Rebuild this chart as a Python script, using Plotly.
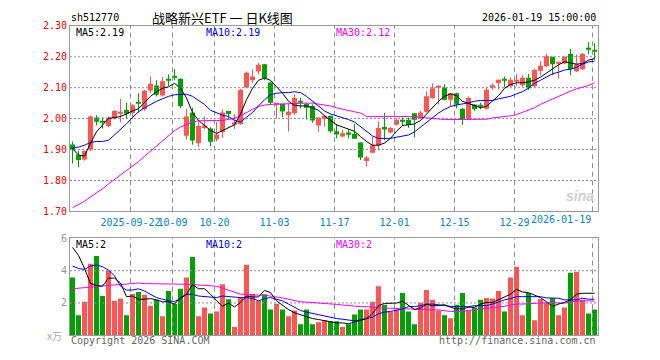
import plotly.graph_objects as go
import pandas as pd

# ---------------- data ----------------
holidays = ["2025-10-01", "2025-10-02", "2025-10-03", "2025-10-06", "2025-10-07",
            "2025-10-08", "2026-01-01", "2026-01-02"]
dates = [d.strftime("%Y-%m-%d") for d in pd.bdate_range("2025-09-08", "2026-01-19")
         if d.strftime("%Y-%m-%d") not in holidays]

opens = [1.916, 1.882, 1.868, 1.899, 2.004, 1.990, 1.976, 2.001, 2.018, 2.028,
         2.018, 2.051, 2.030, 2.091, 2.107, 2.075, 2.127, 2.135, 2.129, 1.945,
         2.020, 1.921, 1.970, 1.968, 1.933, 1.957, 2.025, 1.983, 1.983, 2.101,
         2.124, 2.152, 2.176, 2.117, 2.046, 2.048, 2.011, 2.017, 2.058, 2.048,
         2.041, 1.978, 1.999, 2.009, 1.959, 1.942, 1.955, 1.951, 1.923, 1.863,
         1.890, 1.913, 1.973, 1.955, 1.980, 1.991, 1.996, 2.017, 2.001, 2.022,
         2.067, 2.100, 2.101, 2.061, 2.082, 2.032, 1.997, 2.046, 2.041, 2.032,
         2.100, 2.114, 2.125, 2.105, 2.120, 2.108, 2.132, 2.105, 2.155, 2.169,
         2.200, 2.178, 2.178, 2.209, 2.153, 2.160, 2.226, 2.220]
closes = [1.900, 1.866, 1.895, 2.007, 1.990, 1.988, 2.004, 2.025, 2.019, 2.016,
          2.043, 2.050, 2.090, 2.113, 2.077, 2.121, 2.125, 2.133, 2.041, 2.007,
          1.929, 1.976, 1.978, 1.925, 1.949, 2.020, 2.015, 1.988, 2.093, 2.148,
          2.136, 2.174, 2.131, 2.051, 2.048, 2.023, 2.022, 2.067, 2.051, 2.035,
          1.994, 2.004, 2.009, 1.959, 1.949, 1.953, 1.949, 1.935, 1.874, 1.874,
          1.914, 1.970, 1.965, 1.970, 1.996, 1.990, 1.980, 1.996, 2.020, 2.072,
          2.098, 2.101, 2.061, 2.082, 2.046, 1.997, 2.067, 2.030, 2.040, 2.093,
          2.108, 2.126, 2.124, 2.126, 2.121, 2.132, 2.098, 2.157, 2.171, 2.202,
          2.176, 2.179, 2.200, 2.160, 2.176, 2.209, 2.225, 2.219]
highs = [1.926, 1.895, 1.897, 2.010, 2.011, 2.004, 2.007, 2.027, 2.064, 2.051,
         2.048, 2.082, 2.093, 2.136, 2.124, 2.134, 2.143, 2.160, 2.130, 2.032,
         2.035, 1.989, 2.007, 1.972, 1.989, 2.030, 2.025, 2.014, 2.096, 2.152,
         2.160, 2.179, 2.176, 2.117, 2.049, 2.048, 2.049, 2.078, 2.067, 2.051,
         2.046, 2.004, 2.012, 2.009, 1.983, 1.963, 1.966, 1.983, 1.923, 1.880,
         1.942, 1.991, 2.018, 1.973, 2.001, 2.004, 2.004, 2.017, 2.025, 2.088,
         2.114, 2.108, 2.111, 2.082, 2.084, 2.035, 2.072, 2.046, 2.051, 2.103,
         2.114, 2.126, 2.136, 2.134, 2.143, 2.140, 2.145, 2.162, 2.186, 2.209,
         2.200, 2.181, 2.201, 2.226, 2.207, 2.212, 2.247, 2.244]
lows = [1.855, 1.843, 1.864, 1.895, 1.978, 1.968, 1.972, 1.997, 1.988, 2.001,
        1.999, 2.020, 2.025, 2.082, 2.072, 2.072, 2.105, 2.124, 2.033, 1.932,
        1.916, 1.908, 1.966, 1.910, 1.926, 1.938, 1.999, 1.967, 1.980, 2.098,
        2.116, 2.143, 2.124, 2.046, 2.000, 2.005, 1.958, 2.012, 2.033, 1.997,
        1.987, 1.958, 1.974, 1.955, 1.936, 1.939, 1.936, 1.935, 1.866, 1.845,
        1.888, 1.897, 1.930, 1.953, 1.978, 1.976, 1.970, 1.940, 1.999, 2.020,
        2.064, 2.046, 2.059, 2.040, 2.033, 1.980, 1.997, 2.025, 2.030, 2.030,
        2.093, 2.095, 2.101, 2.103, 2.105, 2.103, 2.093, 2.101, 2.140, 2.166,
        2.140, 2.129, 2.176, 2.140, 2.150, 2.157, 2.209, 2.190]

ma5 = [1.903, 1.882, 1.879, 1.921, 1.957, 1.978, 2.001, 2.003, 2.007, 2.015,
       2.025, 2.032, 2.051, 2.072, 2.087, 2.098, 2.103, 2.114, 2.098, 2.067,
       2.020, 1.994, 1.978, 1.962, 1.952, 1.962, 1.970, 1.980, 2.015, 2.061,
       2.098, 2.124, 2.131, 2.124, 2.103, 2.082, 2.056, 2.043, 2.041, 2.041,
       2.035, 2.027, 2.009, 1.994, 1.980, 1.973, 1.966, 1.959, 1.942, 1.926,
       1.914, 1.914, 1.921, 1.936, 1.959, 1.978, 1.980, 1.983, 1.994, 2.015,
       2.035, 2.056, 2.072, 2.080, 2.074, 2.056, 2.049, 2.041, 2.035, 2.040,
       2.056, 2.074, 2.098, 2.110, 2.116, 2.116, 2.119, 2.124, 2.134, 2.147,
       2.160, 2.174, 2.184, 2.181, 2.176, 2.178, 2.189, 2.194]
ma10 = [1.905, 1.908, 1.914, 1.923, 1.926, 1.926, 1.930, 1.947, 1.965, 1.983,
        2.004, 2.022, 2.035, 2.046, 2.056, 2.064, 2.072, 2.077, 2.079, 2.079,
        2.072, 2.059, 2.046, 2.027, 2.020, 2.011, 2.007, 1.994, 1.989, 2.004,
        2.020, 2.041, 2.061, 2.077, 2.082, 2.084, 2.084, 2.087, 2.084, 2.072,
        2.056, 2.041, 2.025, 2.015, 2.009, 2.004, 1.997, 1.989, 1.973, 1.957,
        1.944, 1.936, 1.936, 1.936, 1.940, 1.944, 1.947, 1.957, 1.973, 1.989,
        2.004, 2.018, 2.030, 2.039, 2.044, 2.047, 2.051, 2.056, 2.059, 2.058,
        2.059, 2.064, 2.067, 2.072, 2.080, 2.087, 2.098, 2.114, 2.124, 2.134,
        2.145, 2.150, 2.157, 2.160, 2.166, 2.176, 2.183, 2.186]
ma30 = [1.712, 1.723, 1.733, 1.747, 1.759, 1.773, 1.789, 1.803, 1.818, 1.832,
        1.847, 1.861, 1.878, 1.895, 1.911, 1.928, 1.945, 1.961, 1.973, 1.982,
        1.989, 1.993, 1.994, 1.994, 1.994, 1.994, 1.997, 2.001, 2.009, 2.020,
        2.030, 2.039, 2.044, 2.046, 2.047, 2.048, 2.048, 2.049, 2.050, 2.050,
        2.050, 2.047, 2.045, 2.041, 2.035, 2.030, 2.026, 2.022, 2.018, 2.007,
        2.007, 2.007, 2.007, 2.009, 2.009, 2.009, 2.007, 2.006, 2.004, 2.001,
        1.999, 1.999, 1.997, 1.997, 1.997, 1.997, 1.997, 1.997, 1.997, 1.998,
        2.002, 2.004, 2.006, 2.009, 2.013, 2.020, 2.028, 2.035, 2.046, 2.055,
        2.064, 2.072, 2.082, 2.089, 2.096, 2.101, 2.107, 2.116]

volume = [3.58, 1.23, 2.07, 4.43, 4.91, 2.43, 4.00, 2.13, 2.27, 1.23,
          2.56, 2.68, 2.50, 1.83, 2.19, 1.17, 2.74, 1.93, 2.88, 3.58,
          4.85, 1.17, 1.71, 1.35, 1.47, 3.16, 2.23, 0.50, 2.37, 4.37,
          2.56, 2.13, 2.54, 1.59, 1.95, 1.59, 1.17, 1.53, 0.68, 1.59,
          0.68, 0.80, 0.93, 0.87, 0.87, 0.50, 0.68, 1.28, 1.59, 1.59,
          2.07, 3.04, 1.89, 1.43, 1.59, 2.62, 1.47, 0.68, 2.01, 2.80,
          2.19, 1.53, 1.23, 1.05, 1.89, 2.62, 1.53, 1.71, 2.19, 2.31,
          2.27, 2.74, 1.47, 3.58, 4.25, 1.23, 2.62, 0.93, 2.25, 1.99,
          2.31, 1.23, 1.71, 3.88, 3.94, 2.19, 1.35, 1.59]
vma5 = [5.45, 4.95, 4.14, 3.20, 3.08, 3.04, 3.54, 3.54, 3.24, 2.39,
        2.43, 2.23, 2.23, 2.27, 2.19, 2.07, 2.07, 1.93, 2.33, 2.54,
        3.14, 2.88, 2.88, 2.54, 2.13, 1.79, 1.99, 1.75, 2.03, 2.43,
        2.37, 2.37, 2.78, 2.64, 2.13, 1.83, 1.59, 1.39, 1.27, 1.19,
        1.03, 0.97, 0.89, 0.82, 0.76, 0.76, 0.70, 0.82, 0.91, 1.03,
        1.33, 1.83, 1.97, 1.99, 1.99, 2.11, 1.83, 1.59, 1.69, 1.91,
        1.83, 1.83, 1.89, 1.73, 1.63, 1.63, 1.73, 1.73, 1.93, 2.03,
        2.03, 2.19, 2.33, 2.54, 2.84, 2.68, 2.64, 2.47, 2.33, 2.07,
        1.79, 1.93, 2.03, 2.19, 2.54, 2.60, 2.60, 2.60]
vma10 = [4.29, 4.14, 4.08, 4.29, 4.35, 4.25, 4.04, 3.68, 3.04, 2.80,
         2.80, 2.88, 2.74, 2.54, 2.33, 2.23, 2.13, 2.09, 2.27, 2.54,
         2.54, 2.43, 2.39, 2.33, 2.33, 2.43, 2.39, 2.33, 2.33, 2.33,
         2.27, 2.13, 2.27, 2.33, 2.23, 2.13, 1.93, 1.73, 1.53, 1.43,
         1.33, 1.27, 1.19, 1.09, 1.03, 0.99, 0.93, 0.89, 0.95, 1.03,
         1.11, 1.33, 1.43, 1.47, 1.53, 1.63, 1.77, 1.77, 1.83, 1.93,
         1.93, 1.87, 1.83, 1.79, 1.77, 1.77, 1.77, 1.83, 1.83, 1.83,
         1.93, 2.07, 2.19, 2.27, 2.39, 2.39, 2.39, 2.39, 2.39, 2.31,
         2.31, 2.29, 2.19, 2.19, 2.19, 2.29, 2.23, 2.23]
vma30 = [2.88, 2.92, 2.94, 3.00, 3.00, 3.04, 3.08, 3.12, 3.14, 3.18,
         3.20, 3.24, 3.20, 3.20, 3.20, 3.20, 3.18, 3.20, 3.20, 3.16,
         3.14, 3.12, 3.10, 3.08, 3.04, 2.92, 2.80, 2.64, 2.54, 2.54,
         2.50, 2.48, 2.48, 2.43, 2.37, 2.31, 2.23, 2.15, 2.07, 2.05,
         2.03, 1.99, 1.95, 1.93, 1.91, 1.87, 1.83, 1.79, 1.77, 1.77,
         1.73, 1.71, 1.67, 1.67, 1.65, 1.63, 1.63, 1.59, 1.59, 1.57,
         1.57, 1.57, 1.51, 1.47, 1.47, 1.47, 1.53, 1.57, 1.59, 1.63,
         1.67, 1.73, 1.79, 1.87, 1.93, 1.93, 1.97, 1.97, 1.99, 2.03,
         2.03, 1.99, 1.99, 2.07, 2.11, 2.13, 2.13, 2.11]

tick_dates = ["2025-09-22", "2025-10-09", "2025-10-20", "2025-11-03", "2025-11-17",
              "2025-12-01", "2025-12-15", "2025-12-29", "2026-01-19"]
tick_labels = ["2025-09-22", "10-09", "10-20", "11-03", "11-17",
               "12-01", "12-15", "12-29", "2026-01-19"]
price_ticks = [1.70, 1.80, 1.90, 2.00, 2.10, 2.20, 2.30]
vol_ticks = [2, 4, 6]

# ---------------- styling ----------------
W, H = 660, 360
RED, GREEN = "#ff5555", "#00a000"
MONO = "DejaVu Sans Mono"
GRIDC = "#8e8e8e"
FRAME = "#9a9a9a"
TICKBLUE = "#0a82d2"

n = len(dates)
xs = list(range(n))
up = [c >= o for o, c in zip(opens, closes)]
colors = [RED if u else GREEN for u in up]

tick_pos = [dates.index(d) - 1 / 3 for d in tick_dates]
tick_text = tick_labels[:-1] + [""]

x0_px, x1_px = 70, 597.5
PX_X = 6.0                      # pixels per trading day
xrange = [-2.5 / PX_X, -2.5 / PX_X + (x1_px - x0_px) / PX_X]
xdom = [x0_px / W, x1_px / W]
prange = [price_ticks[0], price_ticks[-1]]
vrange = [0, vol_ticks[-1]]
P_TOP, P_BOT = 20.5, 212.5
V_TOP, V_BOT = 240.5, 340.5
p_per_px = (prange[1] - prange[0]) / (P_BOT - P_TOP)
v_per_px = (vrange[1] - vrange[0]) / (V_BOT - V_TOP)

fig = go.Figure()


def dashed_segments(lo, hi, on, off):
    segs = []
    s = lo
    while s < hi:
        segs.append((s, min(s + on, hi)))
        s += on + off
    return segs


def grid_trace(xv, yv, xa, ya):
    fig.add_trace(go.Scatter(x=xv, y=yv, mode="lines", hoverinfo="skip", showlegend=False,
                             line=dict(color=GRIDC, width=1, simplify=False),
                             xaxis=xa, yaxis=ya))


# vertical dashed grid (5px on, 4px off) in both panels
for ya, rng, per in (("y", prange, p_per_px), ("y2", vrange, v_per_px)):
    gx, gy = [], []
    for tp in tick_pos:
        for a, b in dashed_segments(rng[0], rng[1], 5 * per, 4 * per):
            gx += [tp, tp, None]
            gy += [a, b, None]
    grid_trace(gx, gy, "x" if ya == "y" else "x2", ya)

# horizontal dotted grid (2px on, 2px off)
for xa, ya, levels in (("x", "y", price_ticks[1:-1]), ("x2", "y2", vol_ticks[:-1])):
    gx, gy = [], []
    for v in levels:
        for a, b in dashed_segments(xrange[0], xrange[1], 2 / PX_X, 2 / PX_X):
            gx += [a, b, None]
            gy += [v, v, None]
    grid_trace(gx, gy, xa, ya)

# wicks
for col, flag in ((RED, True), (GREEN, False)):
    wx, wy = [], []
    for i in xs:
        if up[i] == flag:
            wx += [i, i, None]
            wy += [lows[i], highs[i], None]
    fig.add_trace(go.Scatter(x=wx, y=wy, mode="lines", line=dict(color=col, width=1),
                             hoverinfo="skip", showlegend=False, xaxis="x", yaxis="y"))

# bodies
body_base = [min(o, c) for o, c in zip(opens, closes)]
body_h = [max(abs(c - o), p_per_px) for o, c in zip(opens, closes)]
fig.add_trace(go.Bar(x=xs, y=body_h, base=body_base, width=0.84,
                     marker=dict(color=colors, line=dict(width=0)),
                     showlegend=False, xaxis="x", yaxis="y"))

# price moving averages
for arr, col in ((ma30, "#ff00ff"), (ma10, "#0000ff"), (ma5, "#000000")):
    fig.add_trace(go.Scatter(x=xs, y=arr, mode="lines", line=dict(color=col, width=1),
                             showlegend=False, xaxis="x", yaxis="y"))

# volume
fig.add_trace(go.Bar(x=xs, y=volume, width=0.84,
                     marker=dict(color=colors, line=dict(width=0)),
                     showlegend=False, xaxis="x2", yaxis="y2"))
for arr, col in ((vma30, "#ff00ff"), (vma10, "#0000ff"), (vma5, "#000000")):
    fig.add_trace(go.Scatter(x=xs, y=arr, mode="lines", line=dict(color=col, width=1),
                             showlegend=False, xaxis="x2", yaxis="y2"))

common_x = dict(domain=xdom, range=xrange, tickmode="array", tickvals=tick_pos,
                showgrid=False, showline=True, mirror=True, linecolor=FRAME, linewidth=1,
                ticks="", zeroline=False, fixedrange=True, tickangle=0)
common_y = dict(showgrid=False, showline=True, mirror=True, linecolor=FRAME, linewidth=1,
                ticks="", zeroline=False, fixedrange=True, tickmode="array")

fig.update_layout(
    width=W, height=H, autosize=False,
    margin=dict(l=0, r=0, t=0, b=0),
    paper_bgcolor="white", plot_bgcolor="white",
    barmode="overlay", showlegend=False,
    font=dict(family=MONO, size=10, color="#000"),
    xaxis=dict(**common_x, anchor="y", ticktext=tick_text, ticklabelstandoff=2,
               tickfont=dict(family=MONO, size=10, color=TICKBLUE)),
    xaxis2=dict(**common_x, anchor="y2", ticktext=[""] * len(tick_pos),
                showticklabels=False),
    yaxis=dict(**common_y, domain=[1 - P_BOT / H, 1 - P_TOP / H], range=prange,
               tickvals=price_ticks, ticktext=["%.2f" % v for v in price_ticks],
               tickfont=dict(family=MONO, size=10, color="#ff0000"), anchor="x"),
    yaxis2=dict(**common_y, domain=[1 - V_BOT / H, 1 - V_TOP / H], range=vrange,
                tickvals=vol_ticks, ticktext=[str(v) for v in vol_ticks],
                tickfont=dict(family=MONO, size=10, color="#999999"), anchor="x2"),
)


def px(x, y):
    return x / W, 1 - y / H


def note(text, x, y, color="#000", size=10, family=MONO, xanchor="left", **kw):
    ax, ay = px(x, y)
    fig.add_annotation(text=text, x=ax, y=ay, xref="paper", yref="paper",
                       xanchor=xanchor, yanchor="middle", showarrow=False,
                       font=dict(family=family, size=size, color=color), **kw)


# header
note("sh512770", 69, 12)
note("战略新兴ETF 一 日K线图", 150, 12, size=13, family="Noto Sans CJK SC")
note("2026-01-19 15:00:00", 598, 12, xanchor="right")
# price MA labels
note("MA5:2.19", 74, 27)
note("MA10:2.19", 204, 27, color="#0000ff")
note("MA30:2.12", 334, 27, color="#ff00ff")
# volume MA labels
note("MA5:2", 74, 247)
note("MA10:2", 204, 247, color="#0000ff")
note("MA30:2", 334, 247, color="#ff00ff")
# last date label (right aligned at its tick)
fig.add_annotation(text=tick_labels[-1], x=tick_pos[-1], y=1 - 221 / H, xref="x",
                   yref="paper", xanchor="right", yanchor="middle", showarrow=False,
                   font=dict(family=MONO, size=10, color=TICKBLUE))
# unit and footer
note("x万", 64, 341, color="#aaaaaa", xanchor="right", family="Noto Sans CJK SC", size=10)
note("Copyright 2026 SINA.COM", 69, 346, color="#666666")
note("http://finance.sina.com.cn", 598, 346, color="#666666", xanchor="right")
# watermark
note("<b><i>sina</i></b>", 596, 197, color="#d0d0d0", size=14, xanchor="right",
     family="Liberation Sans")

fig.write_html("out.html", config={"displayModeBar": False},
               post_script="document.body.style.margin='0';document.body.style.overflow='hidden';")
